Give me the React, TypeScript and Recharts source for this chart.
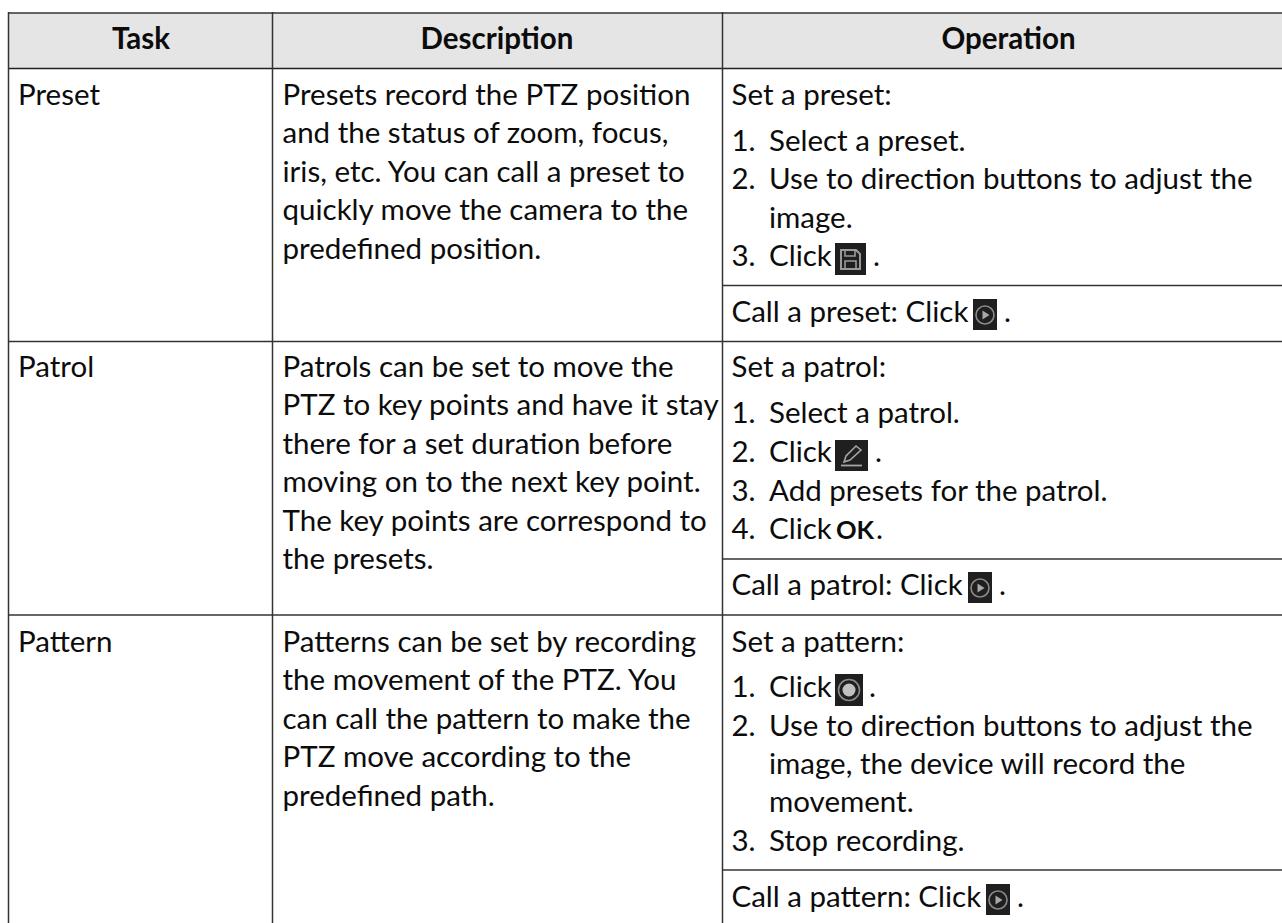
import React from "react";
import { Surface, Rectangle, Text, Layer, Dot } from "recharts";

// table content
const headers = ["Task", "Description", "Operation"];
const tasks = ["Preset", "Patrol", "Pattern"];
const descriptions = [
  [
    "Presets record the PTZ position",
    "and the status of zoom, focus,",
    "iris, etc. You can call a preset to",
    "quickly move the camera to the",
    "predefined position.",
  ],
  [
    "Patrols can be set to move the",
    "PTZ to key points and have it stay",
    "there for a set duration before",
    "moving on to the next key point.",
    "The key points are correspond to",
    "the presets.",
  ],
  [
    "Patterns can be set by recording",
    "the movement of the PTZ. You",
    "can call the pattern to make the",
    "PTZ move according to the",
    "predefined path.",
  ],
];
const setTitles = ["Set a preset:", "Set a patrol:", "Set a pattern:"];
const callTitles = ["Call a preset: Click", "Call a patrol: Click", "Call a pattern: Click"];
const presetSteps = [
  ["1.", "Select a preset."],
  ["2.", "Use to direction buttons to adjust the"],
  ["", "image."],
  ["3.", "Click"],
];
const patrolSteps = [
  ["1.", "Select a patrol."],
  ["2.", "Click"],
  ["3.", "Add presets for the patrol."],
  ["4.", "Click"],
];
const patternSteps = [
  ["1.", "Click"],
  ["2.", "Use to direction buttons to adjust the"],
  ["", "image, the device will record the"],
  ["", "movement."],
  ["3.", "Stop recording."],
];

const FONT = "Lato";
const FONT_SIZE = 29.5;
const INK = "#0c0c0c";
const LINE = "#333333";

const COL_X = [8.5, 272.5, 722.5];
const rowTops = [105, 377, 652];
const descStep = 38.4;
const stepBaselines = [
  [151, 189, 228, 266],
  [423, 462, 501, 539],
  [697, 736, 774, 812, 851],
];
const callBaselines = [322, 595, 907];

const Label = ({ x, y, children, bold, anchor, size }: any) => (
  <Text
    x={x}
    y={y}
    textAnchor={anchor || "start"}
    verticalAnchor="end"
    fontFamily={FONT}
    fontSize={size || FONT_SIZE}
    fontWeight={bold ? 700 : 400}
    fill={INK}
  >
    {children}
  </Text>
);

const IconBox = ({ x, y, w, h, children }: any) => (
  <Layer>
    <Rectangle x={x} y={y} width={w} height={h} fill="#1f1f1f" />
    {children}
  </Layer>
);

const PlayIcon = ({ x, y }: any) => (
  <IconBox x={x} y={y} w={24} h={31}>
    <circle cx={x + 12} cy={y + 16} r={9} fill="none" stroke="#8a8a8a" strokeWidth={1.6} />
    <path d={`M${x + 9.5} ${y + 11.5} L${x + 16.5} ${y + 16} L${x + 9.5} ${y + 20.5} Z`} fill="#a8a8a8" />
  </IconBox>
);

const SaveIcon = ({ x, y }: any) => (
  <IconBox x={x} y={y} w={31} h={32}>
    <path
      d={`M${x + 6} ${y + 7} H${x + 21} L${x + 25} ${y + 11} V${y + 26} H${x + 6} Z`}
      fill="none"
      stroke="#9a9a9a"
      strokeWidth={2}
    />
    <path d={`M${x + 10} ${y + 8} V${y + 13} H${x + 20} V${y + 8}`} fill="none" stroke="#9a9a9a" strokeWidth={1.6} />
    <path d={`M${x + 10} ${y + 25} V${y + 18} H${x + 21} V${y + 25}`} fill="none" stroke="#9a9a9a" strokeWidth={1.6} />
  </IconBox>
);

const PenIcon = ({ x, y }: any) => (
  <IconBox x={x} y={y} w={33} h={31}>
    <path
      d={`M${x + 9} ${y + 22} L${x + 11} ${y + 16} L${x + 21} ${y + 6} L${x + 26} ${y + 10} L${x + 15} ${y + 20} Z`}
      fill="none"
      stroke="#a5a5a5"
      strokeWidth={1.6}
    />
    <path d={`M${x + 6} ${y + 25.5} H${x + 27}`} stroke="#a5a5a5" strokeWidth={1.8} />
  </IconBox>
);

const RecordIcon = ({ x, y }: any) => (
  <IconBox x={x} y={y} w={28} h={32}>
    <circle cx={x + 14} cy={y + 16} r={10.5} fill="none" stroke="#8a8a8a" strokeWidth={1.6} />
    <Dot cx={x + 14} cy={y + 16} r={6.5} fill="#c0c0c0" />
  </IconBox>
);

const Steps = ({ rows, baselines }: any) =>
  rows.map((row: string[], i: number) => (
    <Layer key={i}>
      {row[0] ? (
        <Label x={731.5} y={baselines[i]}>
          {row[0]}
        </Label>
      ) : null}
      <Label x={769} y={baselines[i]}>
        {row[1]}
      </Label>
    </Layer>
  ));

const App = () => {
  const hLines: [number, number][] = [
    [COL_X[2], 285.5],
    [COL_X[0], 341.5],
    [COL_X[2], 559],
    [COL_X[0], 615],
    [COL_X[2], 870],
  ];

  return (
    <div style={{ position: "absolute", left: 0, top: 0, width: 1282, height: 923, background: "#fff" }}>
      <Surface width={1282} height={923} style={{ display: "block" }}>
        {/* header band */}
        <Rectangle x={COL_X[0]} y={13} width={1274} height={55} fill="#e5e5e5" />
        <path d="M8 13 H1282" stroke={LINE} strokeWidth={1.6} />
        <path d="M8 68.5 H1282" stroke="#222" strokeWidth={1.4} />
        {COL_X.map((x) => (
          <path key={x} d={`M${x} 12 V923`} stroke={LINE} strokeWidth={1.5} />
        ))}
        {hLines.map(([x, y]) => (
          <path key={y} d={`M${x} ${y} H1282`} stroke={LINE} strokeWidth={1.3} />
        ))}

        {[141, 497, 1008.5].map((x, i) => (
          <Label key={i} x={x} y={49} bold anchor="middle">
            {headers[i]}
          </Label>
        ))}

        {tasks.map((t, i) => (
          <Label key={t} x={18} y={rowTops[i]}>
            {t}
          </Label>
        ))}
        {descriptions.map((lines, i) =>
          lines.map((line, j) => (
            <Label key={line} x={282.5} y={rowTops[i] + j * descStep}>
              {line}
            </Label>
          ))
        )}

        {setTitles.map((t, i) => (
          <Label key={t} x={731.5} y={rowTops[i]}>
            {t}
          </Label>
        ))}
        <Steps rows={presetSteps} baselines={stepBaselines[0]} />
        <Steps rows={patrolSteps} baselines={stepBaselines[1]} />
        <Steps rows={patternSteps} baselines={stepBaselines[2]} />
        {callTitles.map((t, i) => (
          <Label key={t} x={731.5} y={callBaselines[i]}>
            {t}
          </Label>
        ))}

        {/* inline icons and what follows them */}
        <SaveIcon x={835} y={243} />
        <Label x={873} y={266}>.</Label>
        <PlayIcon x={973} y={299} />
        <Label x={1004} y={322}>.</Label>
        <PenIcon x={835} y={440} />
        <Label x={875} y={462}>.</Label>
        <Label x={836} y={539} bold size={25.5}>OK</Label>
        <Label x={876} y={539}>.</Label>
        <PlayIcon x={968} y={572} />
        <Label x={999} y={595}>.</Label>
        <RecordIcon x={835} y={674} />
        <Label x={869} y={697}>.</Label>
        <PlayIcon x={986} y={884} />
        <Label x={1017} y={907}>.</Label>
      </Surface>
    </div>
  );
};

export default App;
